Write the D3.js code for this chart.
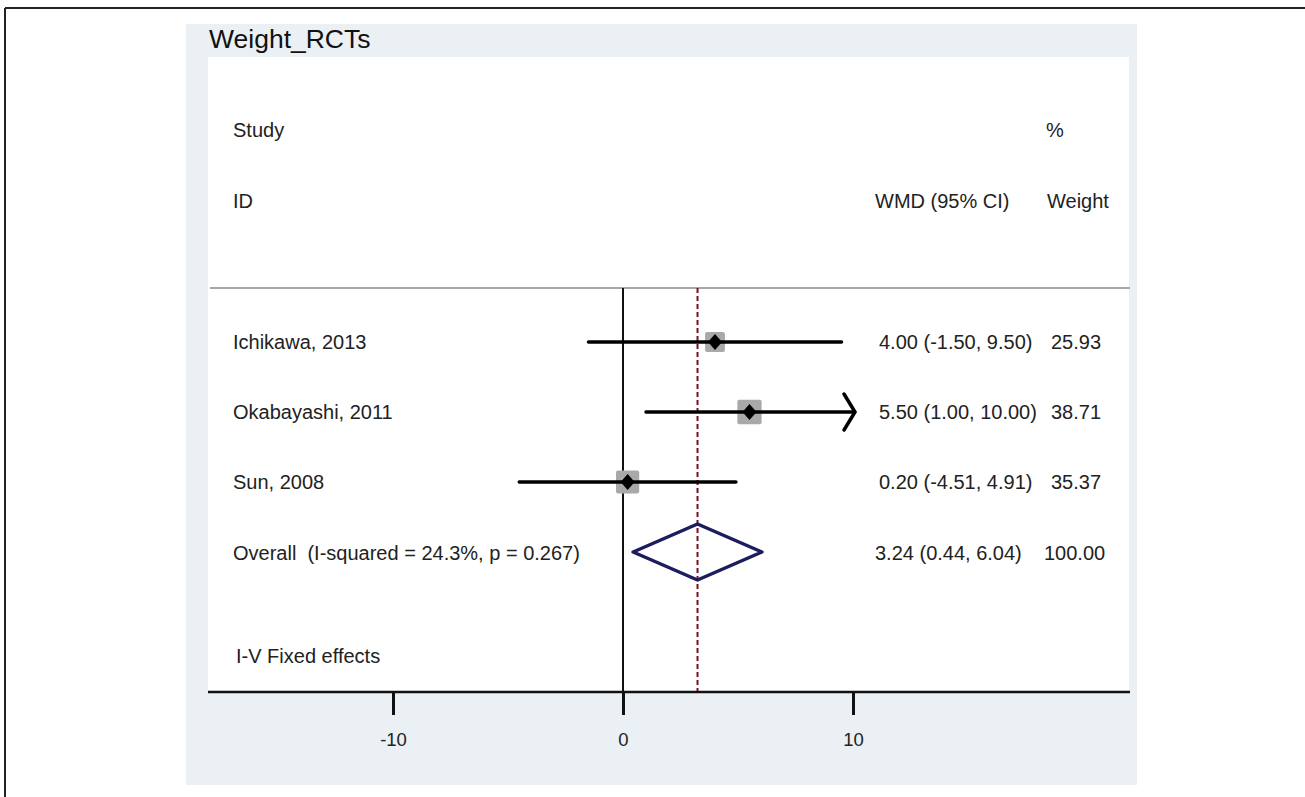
<!DOCTYPE html>
<html>
<head>
<meta charset="utf-8">
<script src="https://cdn.jsdelivr.net/npm/d3@7"></script>
<style>
  html, body { margin: 0; padding: 0; background: #ffffff; }
  svg { display: block; font-family: "Liberation Sans", Arial, sans-serif; }
  svg text { white-space: pre; }
</style>
</head>
<body>
<svg id="chart" width="1305" height="797"></svg>
<script>
// Study-level estimates (weighted mean difference, 95% CI, % weight)
const studies   = ["Ichikawa, 2013", "Okabayashi, 2011", "Sun, 2008"];
const estimates = [4.00, 5.50, 0.20];
const lowerCI   = [-1.50, 1.00, -4.51];
const upperCI   = [9.50, 10.00, 4.91];
const weights   = [25.93, 38.71, 35.37];

// Pooled fixed-effect estimate
const overallLabel = "Overall  (I-squared = 24.3%, p = 0.267)";
const overallEst   = 3.24;
const overallLow   = 0.44;
const overallHigh  = 6.04;
const overallWeight = 100.00;

const tickValues = [-10, 0, 10];
const tickLabels = ["-10", "0", "10"];
const axisClip   = 10;   // intervals beyond this are drawn with an arrow

const svg = d3.select("#chart");

// ---- frame & panels ----
svg.append("line").attr("x1", 5).attr("x2", 1305).attr("y1", 8).attr("y2", 8)
  .attr("stroke", "#222").attr("stroke-width", 2);
svg.append("line").attr("x1", 5).attr("x2", 5).attr("y1", 8).attr("y2", 797)
  .attr("stroke", "#222").attr("stroke-width", 2);

svg.append("rect").attr("x", 186).attr("y", 24).attr("width", 951).attr("height", 761)
  .attr("fill", "#eaf0f3");
svg.append("rect").attr("x", 208).attr("y", 57).attr("width", 921).attr("height", 635)
  .attr("fill", "#ffffff");

// ---- scales ----
const x = d3.scaleLinear().domain([-10, 10]).range([393, 853]);
const rowY = d3.scalePoint().domain([...studies, overallLabel]).range([342, 552]);
const boxSide = d3.scaleSqrt().domain([0, 100]).range([0, 39]);

const plotTop = 288, axisY = 692;

// title
svg.append("text").attr("x", 209).attr("y", 48).attr("font-size", 26.5)
  .attr("fill", "#111").text("Weight_RCTs");

// column headers
const hdr = svg.append("g").attr("font-size", 20).attr("fill", "#222");
hdr.append("text").attr("x", 233).attr("y", 137).text("Study");
hdr.append("text").attr("x", 233).attr("y", 208).text("ID");
hdr.append("text").attr("x", 1046).attr("y", 137).text("%");
hdr.append("text").attr("x", 875).attr("y", 208).text("WMD (95% CI)");
hdr.append("text").attr("x", 1047).attr("y", 208).text("Weight");

// separator under headers
svg.append("line").attr("x1", 210).attr("x2", 1130).attr("y1", plotTop).attr("y2", plotTop)
  .attr("stroke", "#8a8a8a").attr("stroke-width", 1.5);

// null line
svg.append("line").attr("x1", x(0)).attr("x2", x(0)).attr("y1", plotTop).attr("y2", axisY)
  .attr("stroke", "#111").attr("stroke-width", 2);

// pooled estimate line
svg.append("line").attr("x1", x(overallEst)).attr("x2", x(overallEst))
  .attr("y1", plotTop).attr("y2", axisY)
  .attr("stroke", "#7a1020").attr("stroke-width", 2).attr("stroke-dasharray", "5,3");

// ---- study rows ----
const rows = studies.map((s, i) => ({
  name: s, est: estimates[i], lo: lowerCI[i], hi: upperCI[i], w: weights[i]
}));

const g = svg.append("g");
rows.forEach(r => {
  const y = rowY(r.name);
  const hiClipped = Math.min(r.hi, axisClip);
  // weight box
  const s = boxSide(r.w);
  g.append("rect").attr("x", x(r.est) - s / 2).attr("y", y - s / 2)
    .attr("width", s).attr("height", s).attr("rx", 2)
    .attr("fill", "#a9a9a9");
  // CI line
  g.append("line").attr("x1", x(r.lo)).attr("x2", x(hiClipped))
    .attr("y1", y).attr("y2", y)
    .attr("stroke", "#000").attr("stroke-width", 3.5).attr("stroke-linecap", "round");
  // arrow where interval reaches the axis limit
  if (r.hi >= axisClip) {
    const tip = x(axisClip) + 2;
    g.append("path")
      .attr("d", `M${tip - 11},${y - 18} L${tip},${y} L${tip - 11},${y + 18}`)
      .attr("fill", "none").attr("stroke", "#000").attr("stroke-width", 3.5)
      .attr("stroke-linecap", "round").attr("stroke-linejoin", "miter");
  }
  // point estimate
  const cx = x(r.est);
  g.append("path")
    .attr("d", `M${cx},${y - 8} L${cx + 7},${y} L${cx},${y + 8} L${cx - 7},${y} Z`)
    .attr("fill", "#000");
  // labels
  g.append("text").attr("x", 233).attr("y", y + 7).attr("font-size", 20).attr("fill", "#222")
    .text(r.name);
  g.append("text").attr("x", 879).attr("y", y + 7).attr("font-size", 20).attr("fill", "#222")
    .text(`${r.est.toFixed(2)} (${r.lo.toFixed(2)}, ${r.hi.toFixed(2)})`);
  g.append("text").attr("x", 1051).attr("y", y + 7).attr("font-size", 20).attr("fill", "#222")
    .text(r.w.toFixed(2));
});

// ---- overall diamond ----
const oy = rowY(overallLabel);
svg.append("path")
  .attr("d", `M${x(overallLow)},${oy} L${x(overallEst)},${oy - 28} L${x(overallHigh)},${oy} L${x(overallEst)},${oy + 28} Z`)
  .attr("fill", "none").attr("stroke", "#1c1c5e").attr("stroke-width", 3.5)
  .attr("stroke-linejoin", "round");
svg.append("text").attr("x", 233).attr("y", oy + 8).attr("font-size", 20).attr("fill", "#222")
  .attr("xml:space", "preserve").text(overallLabel);
svg.append("text").attr("x", 875).attr("y", oy + 8).attr("font-size", 20).attr("fill", "#222")
  .text(`${overallEst.toFixed(2)} (${overallLow.toFixed(2)}, ${overallHigh.toFixed(2)})`);
svg.append("text").attr("x", 1044).attr("y", oy + 8).attr("font-size", 20).attr("fill", "#222")
  .text(overallWeight.toFixed(2));

// method note
svg.append("text").attr("x", 236).attr("y", 663).attr("font-size", 20).attr("fill", "#222")
  .text("I-V Fixed effects");

// ---- x axis ----
const axis = d3.axisBottom(x).tickValues(tickValues).tickSize(23).tickPadding(18)
  .tickFormat((d, i) => tickLabels[i]);
const ax = svg.append("g").attr("transform", `translate(0,${axisY})`).call(axis);
ax.select(".domain").remove();
ax.selectAll(".tick line").attr("stroke", "#111").attr("stroke-width", 3);
ax.selectAll(".tick text").attr("font-size", 18.5).attr("fill", "#222")
  .attr("font-family", "'Liberation Sans', Arial, sans-serif");
svg.append("line").attr("x1", 208).attr("x2", 1130).attr("y1", axisY).attr("y2", axisY)
  .attr("stroke", "#111").attr("stroke-width", 2.5);
</script>
</body>
</html>
